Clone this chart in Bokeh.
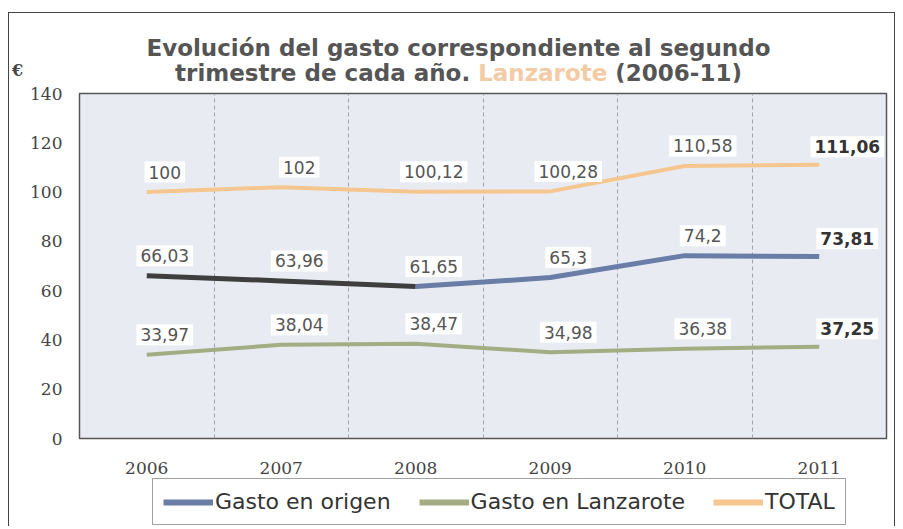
from bokeh.plotting import figure
from bokeh.layouts import column
from bokeh.models import Range1d, FixedTicker, Legend, LegendItem, Div
from bokeh.core.properties import value
from bokeh.embed import file_html
from bokeh.resources import INLINE

years = ["2006", "2007", "2008", "2009", "2010", "2011"]
gasto_origen = [66.03, 63.96, 61.65, 65.3, 74.2, 73.81]
gasto_lanzarote = [33.97, 38.04, 38.47, 34.98, 36.38, 37.25]
total = [100, 102, 100.12, 100.28, 110.58, 111.06]
y_ticks = [0, 20, 40, 60, 80, 100, 120, 140]
series_names = ["Gasto en origen", "Gasto en Lanzarote", "TOTAL"]
title_1 = "Evolución del gasto correspondiente al segundo"
title_2a = "trimestre de cada año."
title_2b = "Lanzarote"
title_2c = "(2006-11)"
unit = "€"

C_ORIGEN = "#6a7da6"
C_DARK = "#3e3e3e"
C_LANZ = "#a4ac84"
C_TOTAL = "#f5c690"

def fmt(v):
    return f"{v:g}".replace(".", ",")

W = 885

# ---- title block -------------------------------------------------------
title_html = (
    f'<div style="position:relative;width:{W}px;height:69px;'
    'font-family:\'DejaVu Sans\';font-weight:bold;font-size:23px;color:#555555;">'
    f'<div style="position:absolute;left:13px;top:23px;width:{W - 12}px;text-align:center;line-height:25px;">'
    f'{title_1}<br>{title_2a} <span style="color:#f3cba4;">{title_2b}</span> {title_2c}</div>'
    '<div style="position:absolute;left:3px;top:47px;font-family:\'DejaVu Serif\';'
    f'font-size:16px;color:#444444;">{unit}</div>'
    '</div>'
)
div = Div(text=title_html, width=W, height=69, margin=0)

# ---- main chart --------------------------------------------------------
p = figure(width=W, height=396, x_range=years, y_range=Range1d(0, 140),
           output_backend="svg", toolbar_location=None,
           min_border_left=70, min_border_right=8, min_border_top=11, min_border_bottom=40)
p.background_fill_color = "#e8ecf2"
p.border_fill_color = "white"
p.outline_line_color = "#555555"
p.outline_line_width = 1.5

p.ygrid.grid_line_color = None
p.xgrid.ticker = FixedTicker(ticks=[1, 2, 3, 4, 5])
p.xgrid.grid_line_color = "#a0a4aa"
p.xgrid.grid_line_dash = "4 3"
p.xgrid.grid_line_width = 1

p.yaxis.ticker = FixedTicker(ticks=y_ticks)
for ax in (p.xaxis, p.yaxis):
    ax.axis_line_color = None
    ax.major_tick_line_color = None
    ax.minor_tick_line_color = None
    ax.major_label_text_font = "DejaVu Serif"
    ax.major_label_text_font_size = "17px"
    ax.major_label_text_color = "#444444"
p.yaxis.major_label_standoff = 11
p.xaxis.major_label_standoff = 17

p.line(years[:3], gasto_origen[:3], line_color=C_DARK, line_width=5)
p.line(years[2:], gasto_origen[2:], line_color=C_ORIGEN, line_width=5)
p.line(years, gasto_lanzarote, line_color=C_LANZ, line_width=4)
p.line(years, total, line_color=C_TOTAL, line_width=4)

for series in (total, gasto_origen, gasto_lanzarote):
    labels = [fmt(v) for v in series]
    p.text(years[:-1], series[:-1], text=labels[:-1], text_align="center",
           text_baseline="middle", y_offset=-20, x_offset=18,
           text_font=value("DejaVu Sans"), text_font_size="17px", text_color="#555555",
           background_fill_color="white", padding=4)
    p.text(years[-1:], series[-1:], text=labels[-1:], text_align="center",
           text_baseline="middle", y_offset=-18, x_offset=28,
           text_font=value("DejaVu Sans"), text_font_size="17px", text_font_style="bold",
           text_color="#333333", background_fill_color="white", padding=4)

# ---- legend strip (frame left is aligned with the chart frame) ---------
pl = figure(width=W, height=48, x_range=Range1d(0, 1), y_range=Range1d(0, 1),
            x_axis_type=None, y_axis_type=None, output_backend="svg",
            toolbar_location=None, min_border_left=70, min_border_right=8,
            min_border_top=0, min_border_bottom=0)
pl.outline_line_color = None
pl.background_fill_color = "white"
pl.border_fill_color = "white"
rl = [pl.line(x=[5, 6], y=[5, 6], line_color=c, line_width=6) for c in (C_ORIGEN, C_LANZ, C_TOTAL)]
legend = Legend(items=[LegendItem(label=n, renderers=[r]) for n, r in zip(series_names, rl)],
                orientation="horizontal", location=(73, 1))
legend.label_text_font = "DejaVu Sans"
legend.label_text_font_size = "22px"
legend.label_text_color = "#333333"
legend.glyph_width = 50
legend.glyph_height = 24
legend.label_standoff = 2
legend.spacing = 28
legend.padding = 10
legend.margin = 0
legend.border_line_color = "#444444"
legend.border_line_width = 1.5
legend.background_fill_color = "white"
pl.add_layout(legend)

layout = column(div, p, pl, margin=(12, 0, 0, 8),
                styles={"border-left": "1.5px solid #444", "border-top": "1.5px solid #444",
                        "border-right": "1.5px solid #444"})

open("out.html", "w").write(file_html(layout, INLINE))
